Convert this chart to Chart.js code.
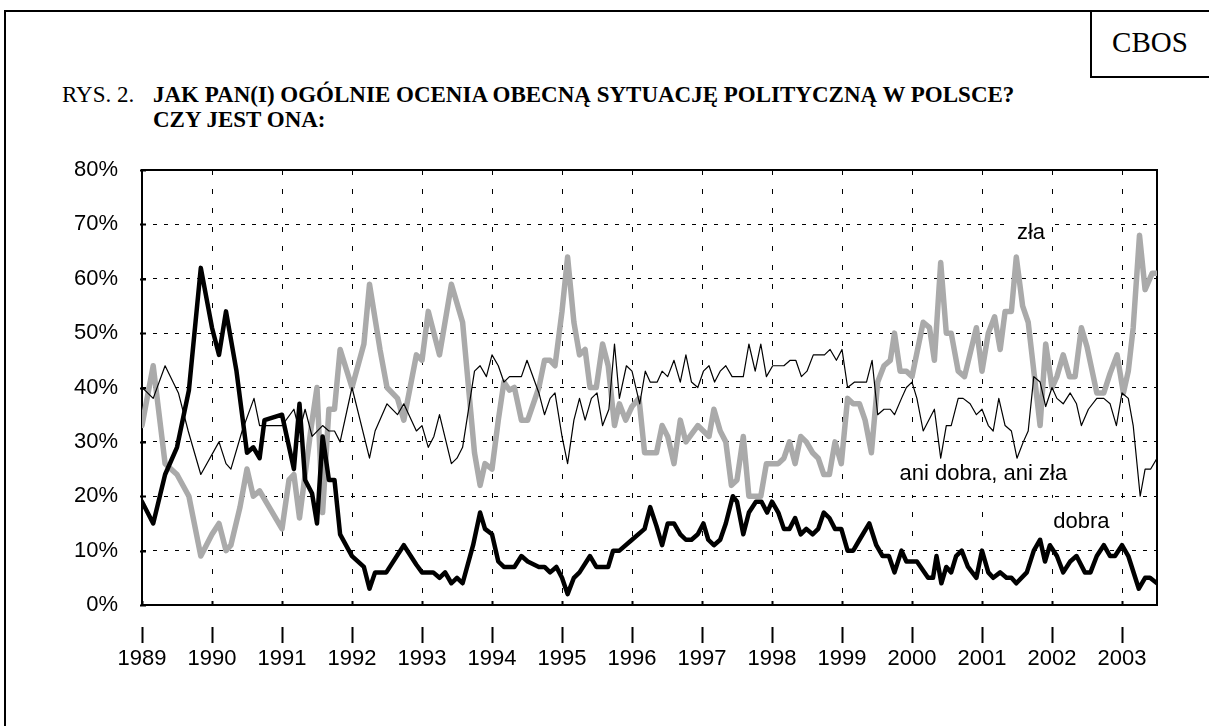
<!DOCTYPE html>
<html lang="pl">
<head>
<meta charset="utf-8">
<title>CBOS – ocena sytuacji politycznej</title>
<script src="https://cdn.jsdelivr.net/npm/chart.js@4.4.1/dist/chart.umd.min.js"></script>
<style>
  html, body { margin: 0; padding: 0; background: #fff; }
  body { width: 1209px; height: 726px; overflow: hidden; position: relative; }
  #frame    { position: absolute; left: 4px; top: 10px; width: 1300px; height: 800px; border: 2px solid #000; }
  #cbos-box { position: absolute; left: 1090px; top: 10px; width: 200px; height: 64px; border: 2px solid #000; }
  #cbos     { position: absolute; left: 1090px; width: 120px; top: 28px; text-align: center;
              font: 29px/28px "Liberation Serif", "Times New Roman", serif; }
  .title    { position: absolute; top: 82px; font-family: "Liberation Serif", "Times New Roman", serif;
              font-size: 23px; line-height: 25px; white-space: nowrap; }
  #rys      { left: 62px; }
  #question { left: 153px; font-weight: bold; }
  canvas    { position: absolute; left: 0; top: 0; }
</style>
</head>
<body>
<div id="frame"></div>
<div id="cbos-box"></div>
<div id="cbos">CBOS</div>
<div class="title" id="rys">RYS. 2.</div>
<div class="title" id="question">JAK PAN(I) OGÓLNIE OCENIA OBECNĄ SYTUACJĘ POLITYCZNĄ W POLSCE?<br>CZY JEST ONA:</div>
<canvas id="chart" width="1209" height="726"></canvas>

<script>
// ----------------------------------------------------------------
// Data — [year (decimal), percent]
// ----------------------------------------------------------------

const years = [1989, 1990, 1991, 1992, 1993, 1994, 1995, 1996, 1997, 1998, 1999, 2000, 2001, 2002, 2003];
const yTicks = [0, 10, 20, 30, 40, 50, 60, 70, 80];

const dobra = [
  [1989.00,19],[1989.16,15],[1989.33,24],[1989.50,29],[1989.67,39.5],[1989.84,62],[1990.00,51],[1990.10,46],
  [1990.20,54],[1990.35,43],[1990.50,28],[1990.59,29],[1990.68,27],[1990.75,34],[1991.00,35],[1991.17,25],
  [1991.25,37],[1991.33,23],[1991.43,20.5],[1991.50,15],[1991.58,31],[1991.67,23],[1991.75,23],[1991.83,13],
  [1992.00,9],[1992.17,7],[1992.25,3],[1992.33,6],[1992.49,6],[1992.74,11],[1992.92,7.4],[1993.00,6],
  [1993.16,6],[1993.25,5],[1993.33,6],[1993.42,4],[1993.50,5],[1993.58,4],[1993.73,11],[1993.83,17],
  [1993.90,14],[1994.00,13],[1994.09,8],[1994.17,7],[1994.32,7],[1994.42,9],[1994.51,8],[1994.67,7],
  [1994.75,7],[1994.83,6],[1994.92,7],[1995.00,5],[1995.08,2],[1995.17,5],[1995.25,6],[1995.40,9],
  [1995.49,7],[1995.66,7],[1995.73,10],[1995.82,10],[1996.00,12],[1996.18,14],[1996.26,18],[1996.35,14.5],
  [1996.43,11],[1996.51,15],[1996.60,15],[1996.69,13],[1996.77,12],[1996.85,12],[1996.94,13],[1997.02,15],
  [1997.09,12],[1997.17,11],[1997.26,12],[1997.34,15],[1997.44,20],[1997.50,19],[1997.59,13],[1997.67,17],
  [1997.77,19],[1997.85,19],[1997.93,17],[1998.00,19],[1998.09,17],[1998.17,14],[1998.25,14],[1998.33,16],
  [1998.41,13],[1998.49,14],[1998.58,13],[1998.66,14],[1998.74,17],[1998.82,16],[1998.90,14],[1998.99,14],
  [1999.08,10],[1999.16,10],[1999.25,12],[1999.39,15],[1999.49,11],[1999.58,9],[1999.67,9],[1999.75,6],
  [1999.85,10],[1999.92,8],[2000.00,8],[2000.07,8],[2000.23,5],[2000.30,5],[2000.35,9],[2000.42,4],
  [2000.49,7],[2000.56,6],[2000.63,9],[2000.71,10],[2000.80,7],[2000.92,5],[2001.00,10],[2001.09,6],
  [2001.16,5],[2001.26,6],[2001.35,5],[2001.42,5],[2001.49,4],[2001.64,6],[2001.74,10],[2001.83,12],
  [2001.90,8],[2001.97,11],[2002.07,9],[2002.16,6],[2002.26,8],[2002.35,9],[2002.47,6],[2002.55,6],
  [2002.64,9],[2002.74,11],[2002.83,9],[2002.90,9],[2003.00,11],[2003.09,9],[2003.24,3],[2003.33,5],
  [2003.40,5],[2003.50,4]
];

const zla = [
  [1989.00,33],[1989.16,44],[1989.33,26],[1989.50,24],[1989.67,20],[1989.84,9],[1990.00,13],[1990.10,15],
  [1990.20,10],[1990.27,11],[1990.40,18],[1990.50,25],[1990.59,20],[1990.68,21],[1991.00,14],[1991.10,23],
  [1991.17,24],[1991.25,16],[1991.42,33],[1991.50,40],[1991.58,17],[1991.67,36],[1991.75,36],[1991.83,47],
  [1992.00,40],[1992.17,48],[1992.25,59],[1992.40,47],[1992.50,40],[1992.65,38],[1992.74,34],[1992.92,46],
  [1993.00,45],[1993.09,54],[1993.25,46],[1993.42,59],[1993.58,52],[1993.75,28],[1993.83,22],[1993.90,26],
  [1994.00,25],[1994.09,34],[1994.17,41],[1994.25,39.5],[1994.32,40],[1994.42,34],[1994.51,34],[1994.67,40],
  [1994.75,45],[1994.83,45],[1994.90,44],[1995.00,54],[1995.08,64],[1995.17,52],[1995.25,46],[1995.33,47],
  [1995.40,40],[1995.49,40],[1995.58,48],[1995.66,44],[1995.75,33],[1995.82,37],[1995.91,34],[1996.00,36.5],
  [1996.10,38],[1996.18,28],[1996.35,28],[1996.43,33],[1996.51,31],[1996.60,26],[1996.69,34],[1996.77,30],
  [1996.94,33],[1997.10,31],[1997.17,36],[1997.26,32],[1997.34,30],[1997.42,22],[1997.50,23],[1997.59,31],
  [1997.67,20],[1997.84,20],[1997.92,26],[1998.09,26],[1998.17,27],[1998.25,30],[1998.33,26],[1998.41,31],
  [1998.49,30],[1998.58,28],[1998.66,27],[1998.74,24],[1998.82,24],[1998.90,30],[1998.99,26],[1999.08,38],
  [1999.16,37],[1999.25,37],[1999.33,34],[1999.42,28],[1999.51,41],[1999.60,44],[1999.69,45],[1999.75,50],
  [1999.83,43],[1999.92,43],[2000.00,42],[2000.16,52],[2000.25,51],[2000.32,45],[2000.41,63],[2000.49,50],
  [2000.56,50],[2000.66,43],[2000.75,42],[2000.92,51],[2001.00,43],[2001.09,50],[2001.18,53],[2001.26,47],
  [2001.33,54],[2001.42,54],[2001.49,64],[2001.58,55],[2001.66,52],[2001.83,33],[2001.91,48],[2002.00,40],
  [2002.07,42],[2002.16,46],[2002.25,42],[2002.33,42],[2002.42,51],[2002.50,47.5],[2002.64,39],[2002.74,39],
  [2002.83,42.6],[2002.93,46],[2003.02,39],[2003.09,43],[2003.16,51],[2003.25,68],[2003.33,58],[2003.43,61],
  [2003.50,61]
];

const aniDobraAniZla = [
  [1989.00,40],[1989.16,38],[1989.33,44],[1989.52,39],[1989.66,32],[1989.84,24],[1990.10,30],[1990.20,26],
  [1990.27,25],[1990.43,32],[1990.60,38],[1990.68,33],[1991.00,33],[1991.17,36],[1991.25,32],[1991.33,36],
  [1991.43,31],[1991.58,33],[1991.67,32],[1991.75,32],[1991.83,30],[1992.00,40],[1992.25,27],[1992.33,32],
  [1992.50,37],[1992.65,35],[1992.74,37],[1992.92,32],[1993.00,33],[1993.09,29],[1993.17,31],[1993.25,35],
  [1993.42,26],[1993.50,27],[1993.58,29],[1993.75,43],[1993.83,44],[1993.92,42],[1994.00,46],[1994.09,44],
  [1994.17,41],[1994.25,42],[1994.42,42],[1994.50,45],[1994.67,39],[1994.75,35],[1994.83,38],[1994.90,39],
  [1995.00,31],[1995.08,26],[1995.17,34],[1995.25,38],[1995.33,34],[1995.42,38],[1995.50,39],[1995.58,33],
  [1995.67,36],[1995.75,48],[1995.82,38],[1995.92,44],[1996.00,43],[1996.11,37],[1996.19,43],[1996.26,41],
  [1996.36,41],[1996.43,43],[1996.51,42],[1996.60,45],[1996.69,41],[1996.77,46],[1996.85,41],[1996.94,40],
  [1997.02,43],[1997.10,44],[1997.18,41],[1997.26,43],[1997.34,44],[1997.43,42],[1997.59,42],[1997.67,48],
  [1997.76,43],[1997.84,48],[1997.92,42],[1998.01,44],[1998.17,44],[1998.26,45],[1998.34,45],[1998.42,42],
  [1998.50,43],[1998.59,46],[1998.75,46],[1998.83,47],[1998.92,45],[1999.00,47],[1999.08,40],[1999.18,41],
  [1999.35,41],[1999.43,45],[1999.51,35],[1999.60,36],[1999.69,36],[1999.75,35],[1999.85,38],[1999.92,40],
  [2000.00,41],[2000.07,38],[2000.16,32],[2000.32,36],[2000.41,27],[2000.49,33],[2000.56,33],[2000.66,38],
  [2000.73,38],[2000.83,37],[2000.92,35],[2001.00,36],[2001.09,33],[2001.16,32],[2001.24,38],[2001.33,33],
  [2001.42,32],[2001.50,27],[2001.59,30],[2001.66,32],[2001.74,42],[2001.83,41],[2001.91,36.5],[2002.00,40],
  [2002.07,38],[2002.16,37],[2002.26,39],[2002.35,37],[2002.42,33],[2002.52,36],[2002.64,38],[2002.74,38],
  [2002.83,37],[2002.92,33],[2003.00,39],[2003.09,38],[2003.16,33],[2003.26,20],[2003.33,25],[2003.41,25],
  [2003.50,27]
];

// curve labels, anchored in data units (year, percent)
const curveLabels = [
  { text: "zła",                x: 2001.70, y: 68.4 },
  { text: "ani dobra, ani zła", x: 2001.02, y: 24.1 },
  { text: "dobra",              x: 2002.42, y: 15.3 },
];

const SANS = '"Liberation Sans", Arial, sans-serif';

const toPoints = (arr) => arr.map(([x, y]) => ({ x, y }));

// ----------------------------------------------------------------
// Plugin: frame, little tick marks, curve labels with white boxes
// ----------------------------------------------------------------

const extras = {
  id: "extras",
  beforeDatasetsDraw(chart) {
    const { ctx, chartArea: a, scales: { x, y } } = chart;
    ctx.save();

    // white patches under curve labels (they hide the grid)
    ctx.font = "22px " + SANS;
    ctx.fillStyle = "#fff";
    for (const lab of curveLabels) {
      const px = x.getPixelForValue(lab.x);
      const py = y.getPixelForValue(lab.y);
      const w = ctx.measureText(lab.text).width;
      ctx.fillRect(px - w / 2 - 6, py - 24, w + 12, 45);
    }

    // plot frame
    ctx.strokeStyle = "#000";
    ctx.lineWidth = 2;
    ctx.strokeRect(a.left, a.top, a.right - a.left, a.bottom - a.top);

    // small inner ticks + detached marks below the axis
    ctx.beginPath();
    for (const yr of years) {
      const px = Math.round(x.getPixelForValue(yr)) + 0.5;
      ctx.moveTo(px, a.bottom);
      ctx.lineTo(px, a.bottom - 4);
      ctx.moveTo(px, a.bottom + 22);
      ctx.lineTo(px, a.bottom + 38);
    }
    for (const v of yTicks) {
      const py = Math.round(y.getPixelForValue(v)) + 0.5;
      ctx.moveTo(a.left - 2, py);
      ctx.lineTo(a.left + 4, py);
    }
    ctx.stroke();
    ctx.restore();
  },
  afterDatasetsDraw(chart) {
    const { ctx, scales: { x, y } } = chart;
    ctx.save();
    ctx.font = "22px " + SANS;
    ctx.fillStyle = "#000";
    ctx.textAlign = "center";
    ctx.textBaseline = "middle";
    for (const lab of curveLabels) {
      ctx.fillText(lab.text, x.getPixelForValue(lab.x), y.getPixelForValue(lab.y));
    }
    ctx.restore();
  },
};

// ----------------------------------------------------------------
// Chart
// ----------------------------------------------------------------

new Chart(document.getElementById("chart"), {
  type: "line",
  data: {
    datasets: [
      {
        label: "dobra",
        data: toPoints(dobra),
        borderColor: "#000",
        borderWidth: 4.5,
      },
      {
        label: "ani dobra, ani zła",
        data: toPoints(aniDobraAniZla),
        borderColor: "#000",
        borderWidth: 1.2,
      },
      {
        label: "zła",
        data: toPoints(zla),
        borderColor: "#aaaaaa",
        borderWidth: 5.5,
      },
    ],
  },
  options: {
    responsive: false,
    animation: false,
    devicePixelRatio: 1,
    layout: { padding: { left: 0, top: 170, right: 52, bottom: 0 } },
    elements: {
      point: { radius: 0 },
      line: { tension: 0, borderJoinStyle: "round", borderCapStyle: "round" },
    },
    plugins: {
      legend: { display: false },
      tooltip: { enabled: false },
    },
    scales: {
      x: {
        type: "linear",
        min: 1989,
        max: 2003.5,
        afterBuildTicks: (scale) => { scale.ticks = years.map((v) => ({ value: v })); },
        afterFit: (scale) => { scale.height = 121; },
        grid: { color: "#000", lineWidth: 1, drawTicks: false },
        border: { display: false, dash: [5, 14] },
        ticks: {
          autoSkip: false,
          maxRotation: 0,
          padding: 41,
          color: "#000",
          font: { family: SANS, size: 22 },
          callback: (v) => String(v),
        },
      },
      y: {
        min: 0,
        max: 80,
        afterBuildTicks: (scale) => { scale.ticks = yTicks.map((v) => ({ value: v })); },
        afterFit: (scale) => { scale.width = 142; },
        grid: { color: "#000", lineWidth: 1, drawTicks: false },
        border: { display: false, dash: [4, 7] },
        ticks: {
          padding: 24,
          color: "#000",
          font: { family: SANS, size: 22 },
          callback: (v) => v + "%",
        },
      },
    },
  },
  plugins: [extras],
});
</script>
</body>
</html>
